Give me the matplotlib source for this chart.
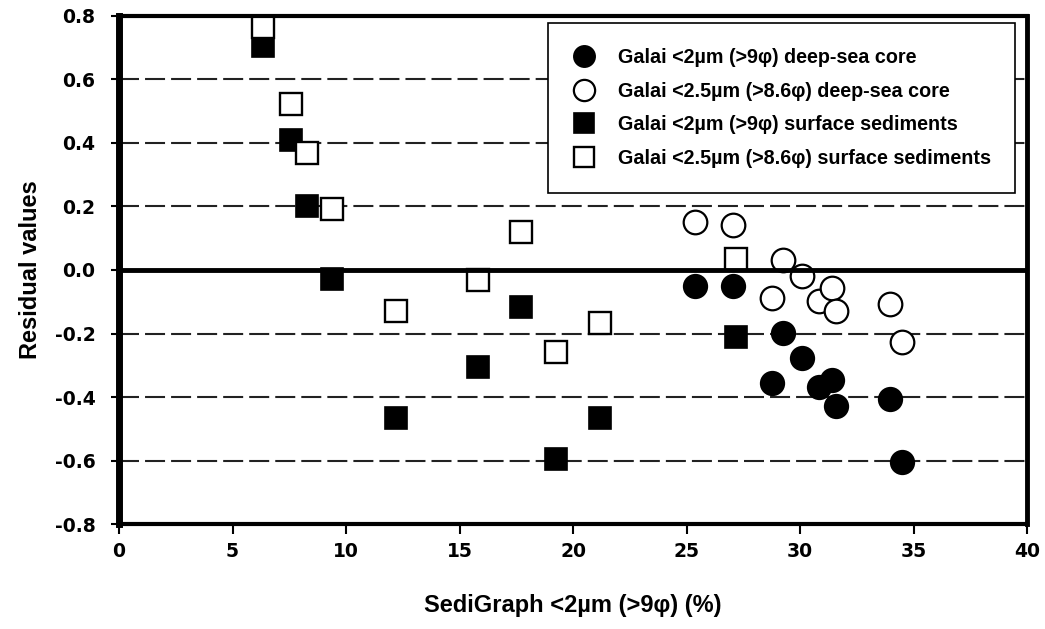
import matplotlib
matplotlib.use("Agg")
import matplotlib.pyplot as plt

plt.rcParams['font.family'] = ['Liberation Sans', 'DejaVu Sans']
plt.rcParams['font.weight'] = 'bold'

# deep-sea core (circles), x shared by both Galai fractions
core_x = [25.38, 27.05, 29.26, 30.1, 28.78, 30.82, 31.4, 31.58, 33.98, 34.48]
core_2um = [-0.05, -0.05, -0.198, -0.277, -0.356, -0.368, -0.346, -0.428, -0.406, -0.605]
core_25um = [0.151, 0.142, 0.031, -0.019, -0.088, -0.098, -0.057, -0.129, -0.107, -0.227]

# surface sediments (squares)
surf_x = [6.35, 7.56, 8.28, 9.4, 12.22, 15.81, 17.7, 19.24, 21.21, 27.18]
surf_2um = [0.705, 0.41, 0.202, -0.029, -0.467, -0.307, -0.118, -0.596, -0.467, -0.21]
surf_25um = [0.765, 0.523, 0.37, 0.191, -0.128, -0.031, 0.121, -0.258, -0.168, 0.035]

labels = ["Galai <2\u00b5m (>9\u03c6) deep-sea core",
          "Galai <2.5\u00b5m (>8.6\u03c6) deep-sea core",
          "Galai <2\u00b5m (>9\u03c6) surface sediments",
          "Galai <2.5\u00b5m (>8.6\u03c6) surface sediments"]

xticks = [0, 5, 10, 15, 20, 25, 30, 35, 40]
yticks = [-0.8, -0.6, -0.4, -0.2, 0.0, 0.2, 0.4, 0.6, 0.8]
grid_y = [-0.6, -0.4, -0.2, 0.2, 0.4, 0.6]

fig = plt.figure(figsize=(10.45, 6.29), dpi=100)
ax = fig.add_axes([0.1139, 0.1669, 0.8689, 0.8077])

for g in grid_y:
    ax.axhline(g, color="#222222", lw=1.5, ls=(0, (9.6, 2.9)), zorder=1)
ax.axhline(0, color="black", lw=3.5, zorder=4)

ax.plot(core_x, core_2um, "o", ms=17, mfc="black", mec="black", mew=1.2,
        label=labels[0], zorder=3, clip_on=False)
ax.plot(core_x, core_25um, "o", ms=17, mfc="white", mec="black", mew=1.6,
        label=labels[1], zorder=3, clip_on=False)
ax.plot(surf_x, surf_2um, "s", ms=15.5, mfc="black", mec="black", mew=1.2,
        label=labels[2], zorder=3, clip_on=False)
ax.plot(surf_x, surf_25um, "s", ms=15.5, mfc="white", mec="black", mew=1.7,
        label=labels[3], zorder=3, clip_on=False)

ax.set_xlim(0, 40)
ax.set_ylim(-0.8, 0.8)
ax.set_xticks(xticks)
ax.set_yticks(yticks)
ax.set_xticklabels([str(t) for t in xticks], fontfamily="DejaVu Sans",
                   fontweight="bold", fontsize=13.5)
ax.set_yticklabels(["%.1f" % t for t in yticks], fontfamily="DejaVu Sans",
                   fontweight="bold", fontsize=13.5)
ax.tick_params(axis="x", direction="out", length=7, width=1.5, pad=6)
ax.tick_params(axis="y", direction="out", length=6, width=1.5, pad=11)

for side, lw in [("top", 3), ("right", 3.5), ("bottom", 3), ("left", 5)]:
    ax.spines[side].set_linewidth(lw)
    ax.spines[side].set_zorder(5)

ax.set_xlabel("SediGraph <2\u00b5m (>9\u03c6) (%)", fontsize=17, fontweight="bold", va="center")
ax.xaxis.set_label_coords(0.5, -0.161)
ax.set_ylabel("Residual values", fontsize=17, fontweight="bold", va="center")
ax.yaxis.set_label_coords(-0.097, 0.5)

leg = ax.legend(loc="upper right", bbox_to_anchor=(0.987, 0.986), fontsize=14.2,
                frameon=True, fancybox=False, framealpha=1, edgecolor="black",
                borderpad=1.25, labelspacing=0.75, handlelength=1.2,
                handletextpad=1.1, markerscale=0.9, borderaxespad=0)
leg.get_frame().set_linewidth(1.2)
leg.set_zorder(6)

fig.savefig("out.png", dpi=100)
